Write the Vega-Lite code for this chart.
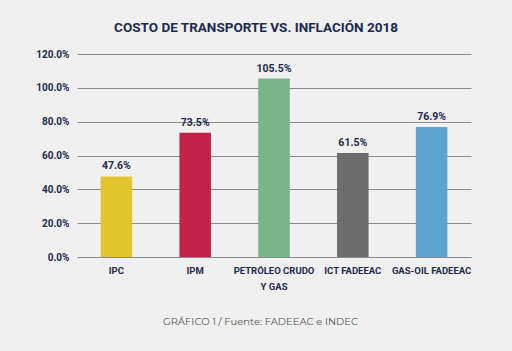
{
  "$schema": "https://vega.github.io/schema/vega-lite/v6.json",
  "width": 394,
  "height": 203,
  "autosize": "none",
  "padding": {"left": 77, "top": 54, "right": 41, "bottom": 94},
  "background": "#f0f0f0",
  "title": {
    "text": "COSTO DE TRANSPORTE VS. INFLACIÓN 2018",
    "font": "Roboto",
    "fontSize": 13.5,
    "fontWeight": "bold",
    "color": "#1b2a4e",
    "anchor": "middle",
    "dx": -18,
    "offset": 15
  },
  "data": {
    "values": [
      {"cat": "IPC", "value": 0.476, "color": "#e2c42f"},
      {"cat": "IPM", "value": 0.735, "color": "#c1224a"},
      {"cat": "PETRÓLEO CRUDO Y GAS", "value": 1.055, "color": "#78b68a"},
      {"cat": "ICT FADEEAC", "value": 0.615, "color": "#6d6d6d"},
      {"cat": "GAS-OIL FADEEAC", "value": 0.769, "color": "#5ba4d0"}
    ]
  },
  "encoding": {
    "x": {
      "field": "cat",
      "type": "nominal",
      "sort": null,
      "scale": {"paddingInner": 0.6, "paddingOuter": 0.3},
      "axis": {
        "title": "GRÁFICO 1 / Fuente: FADEEAC e INDEC",
        "titleFont": "Montserrat, Open Sans",
        "titleFontSize": 10,
        "titleFontWeight": "normal",
        "titleColor": "#555555",
        "titlePadding": 26,
        "titleX": 183,
        "labelAngle": 0,
        "labelFont": "Roboto",
        "labelFontWeight": "bold",
        "labelFontSize": 9.5,
        "labelColor": "#1b2a4e",
        "labelPadding": 8,
        "labelLineHeight": 16,
        "labelExpr": "datum.value == 'PETRÓLEO CRUDO Y GAS' ? ['PETRÓLEO CRUDO', 'Y GAS'] : datum.value",
        "ticks": false,
        "domainColor": "#8a8a8a",
        "domainWidth": 1
      }
    },
    "y": {
      "field": "value",
      "type": "quantitative",
      "scale": {"domain": [0, 1.2]},
      "axis": {
        "title": null,
        "values": [0, 0.2, 0.4, 0.6, 0.8, 1.0, 1.2],
        "format": ".1%",
        "labelFont": "Roboto",
        "labelFontWeight": "bold",
        "labelFontSize": 10,
        "labelColor": "#1b2a4e",
        "labelPadding": 8,
        "ticks": false,
        "domain": false,
        "gridColor": "#8a8a8a",
        "gridWidth": 1
      }
    }
  },
  "layer": [
    {
      "mark": {"type": "bar"},
      "encoding": {
        "color": {"field": "color", "type": "nominal", "scale": null}
      }
    },
    {
      "mark": {
        "type": "text",
        "dy": -10,
        "font": "Roboto",
        "fontWeight": "bold",
        "fontSize": 10.5,
        "color": "#1b2a4e"
      },
      "encoding": {
        "text": {"field": "value", "type": "quantitative", "format": ".1%"}
      }
    }
  ],
  "config": {"view": {"stroke": null}}
}
